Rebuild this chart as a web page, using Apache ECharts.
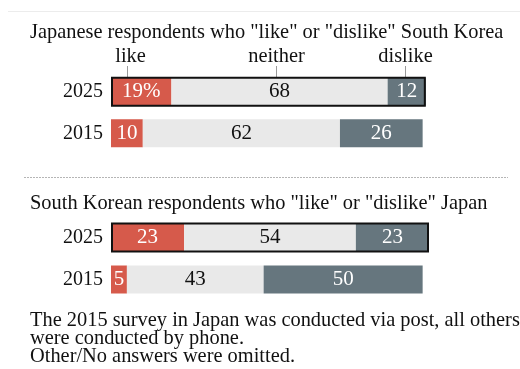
<!DOCTYPE html>
<html>
<head>
<meta charset="utf-8">
<script src="https://cdn.jsdelivr.net/npm/echarts@6/dist/echarts.min.js"></script>
<style>
  html, body { margin: 0; padding: 0; background: #fff; }
  #chart { width: 520px; height: 369px; }
</style>
</head>
<body>
<div id="chart"></div>
<script>
// Survey rows (top to bottom)
const years = ['2025', '2015'];

// Japanese respondents about South Korea (%)
const jpLike = [19, 10];
const jpNeither = [68, 62];
const jpDislike = [12, 26];

// South Korean respondents about Japan (%)
const krLike = [23, 5];
const krNeither = [54, 43];
const krDislike = [23, 50];

// Answer headers and where their pointers sit on the 0-100 scale
const answerNames = ['like', 'neither', 'dislike'];
const answerAt = [5, 52, 92.5];

const titleJp = 'Japanese respondents who "like" or "dislike" South Korea';
const titleKr = 'South Korean respondents who "like" or "dislike" Japan';
const noteLines = [
  'The 2015 survey in Japan was conducted via post, all others',
  'were conducted by phone.',
  'Other/No answers were omitted.'
];

const FONT = "'Liberation Serif', 'Times New Roman', serif";
const RED = '#d65a4b';
const LIGHT = '#e9e9e9';
const SLATE = '#66767e';

const chart = echarts.init(document.getElementById('chart'), null, { renderer: 'canvas' });

function segment(name, data, color, textColor, grid, withPercent) {
  return {
    type: 'bar', name: name, stack: 'g' + grid,
    xAxisIndex: grid, yAxisIndex: grid * 2,
    barWidth: 28, data: data, silent: true,
    itemStyle: { color: color },
    label: {
      show: true, position: 'inside', color: textColor,
      fontFamily: FONT, fontSize: 21,
      formatter: p => (withPercent && p.dataIndex === 0) ? p.value + '%' : String(p.value)
    }
  };
}

function outline(grid, like, neither, dislike) {
  const total = like[0] + neither[0] + dislike[0];
  return {
    type: 'bar', xAxisIndex: grid, yAxisIndex: grid * 2 + 1,
    barWidth: 30, z: 5, silent: true,
    data: [total, null],
    itemStyle: { color: 'rgba(0,0,0,0)', borderColor: '#111', borderWidth: 2 }
  };
}

function yAxes(grid) {
  return [
    {
      type: 'category', gridIndex: grid, data: years, inverse: true,
      axisLine: { show: false }, axisTick: { show: false }, splitLine: { show: false },
      axisLabel: { margin: 8, color: '#111', fontFamily: FONT, fontSize: 20 }
    },
    {
      type: 'category', gridIndex: grid, data: years, inverse: true, show: false
    }
  ];
}

const xBase = { type: 'value', min: 0, max: 100, show: false };

chart.setOption({
  backgroundColor: '#fff',
  animation: false,
  grid: [
    { left: 111, width: 318, top: 71, height: 83 },
    { left: 111, width: 318, top: 216.5, height: 84 }
  ],
  xAxis: [
    Object.assign({ gridIndex: 0 }, xBase),
    Object.assign({ gridIndex: 1 }, xBase)
  ],
  yAxis: [].concat(yAxes(0), yAxes(1)),
  series: [
    segment('like', jpLike, RED, '#fff', 0, true),
    segment('neither', jpNeither, LIGHT, '#111', 0, false),
    segment('dislike', jpDislike, SLATE, '#fff', 0, false),
    outline(0, jpLike, jpNeither, jpDislike),
    segment('like', krLike, RED, '#fff', 1, false),
    segment('neither', krNeither, LIGHT, '#111', 1, false),
    segment('dislike', krDislike, SLATE, '#fff', 1, false),
    outline(1, krLike, krNeither, krDislike)
  ]
});

// Headings, separators, answer pointers and notes
const TEXT_FONT = '20.4px ' + FONT;
const graphics = [
  { type: 'line', shape: { x1: 8, y1: 11.5, x2: 520, y2: 11.5 }, style: { stroke: '#ececec', lineWidth: 1 }, silent: true },
  { type: 'line', shape: { x1: 24, y1: 177.5, x2: 508, y2: 177.5 }, style: { stroke: '#b5b5b5', lineWidth: 1, lineDash: [2, 1] }, silent: true },
  { type: 'text', x: 30, y: 33, style: { text: titleJp, font: TEXT_FONT, fill: '#111', verticalAlign: 'middle' }, silent: true },
  { type: 'text', x: 30, y: 203.5, style: { text: titleKr, font: TEXT_FONT, fill: '#111', verticalAlign: 'middle' }, silent: true }
];

noteLines.forEach((t, i) => {
  graphics.push({ type: 'text', x: 30, y: 320.5 + i * 18, style: { text: t, font: TEXT_FONT, fill: '#111', verticalAlign: 'middle' }, silent: true });
});

answerNames.forEach((name, i) => {
  const px = Math.round(chart.convertToPixel({ xAxisIndex: 0 }, answerAt[i])) + 0.5;
  graphics.push({ type: 'line', shape: { x1: px, y1: 66, x2: px, y2: 78 }, style: { stroke: '#9a9a9a', lineWidth: 1 }, silent: true, z: 1 });
  graphics.push({ type: 'text', x: px + (i === 0 ? 3 : 0), y: 56.5, style: { text: name, font: TEXT_FONT, fill: '#111', align: 'center', verticalAlign: 'middle' }, silent: true });
});

chart.setOption({ graphic: graphics });
</script>
</body>
</html>
